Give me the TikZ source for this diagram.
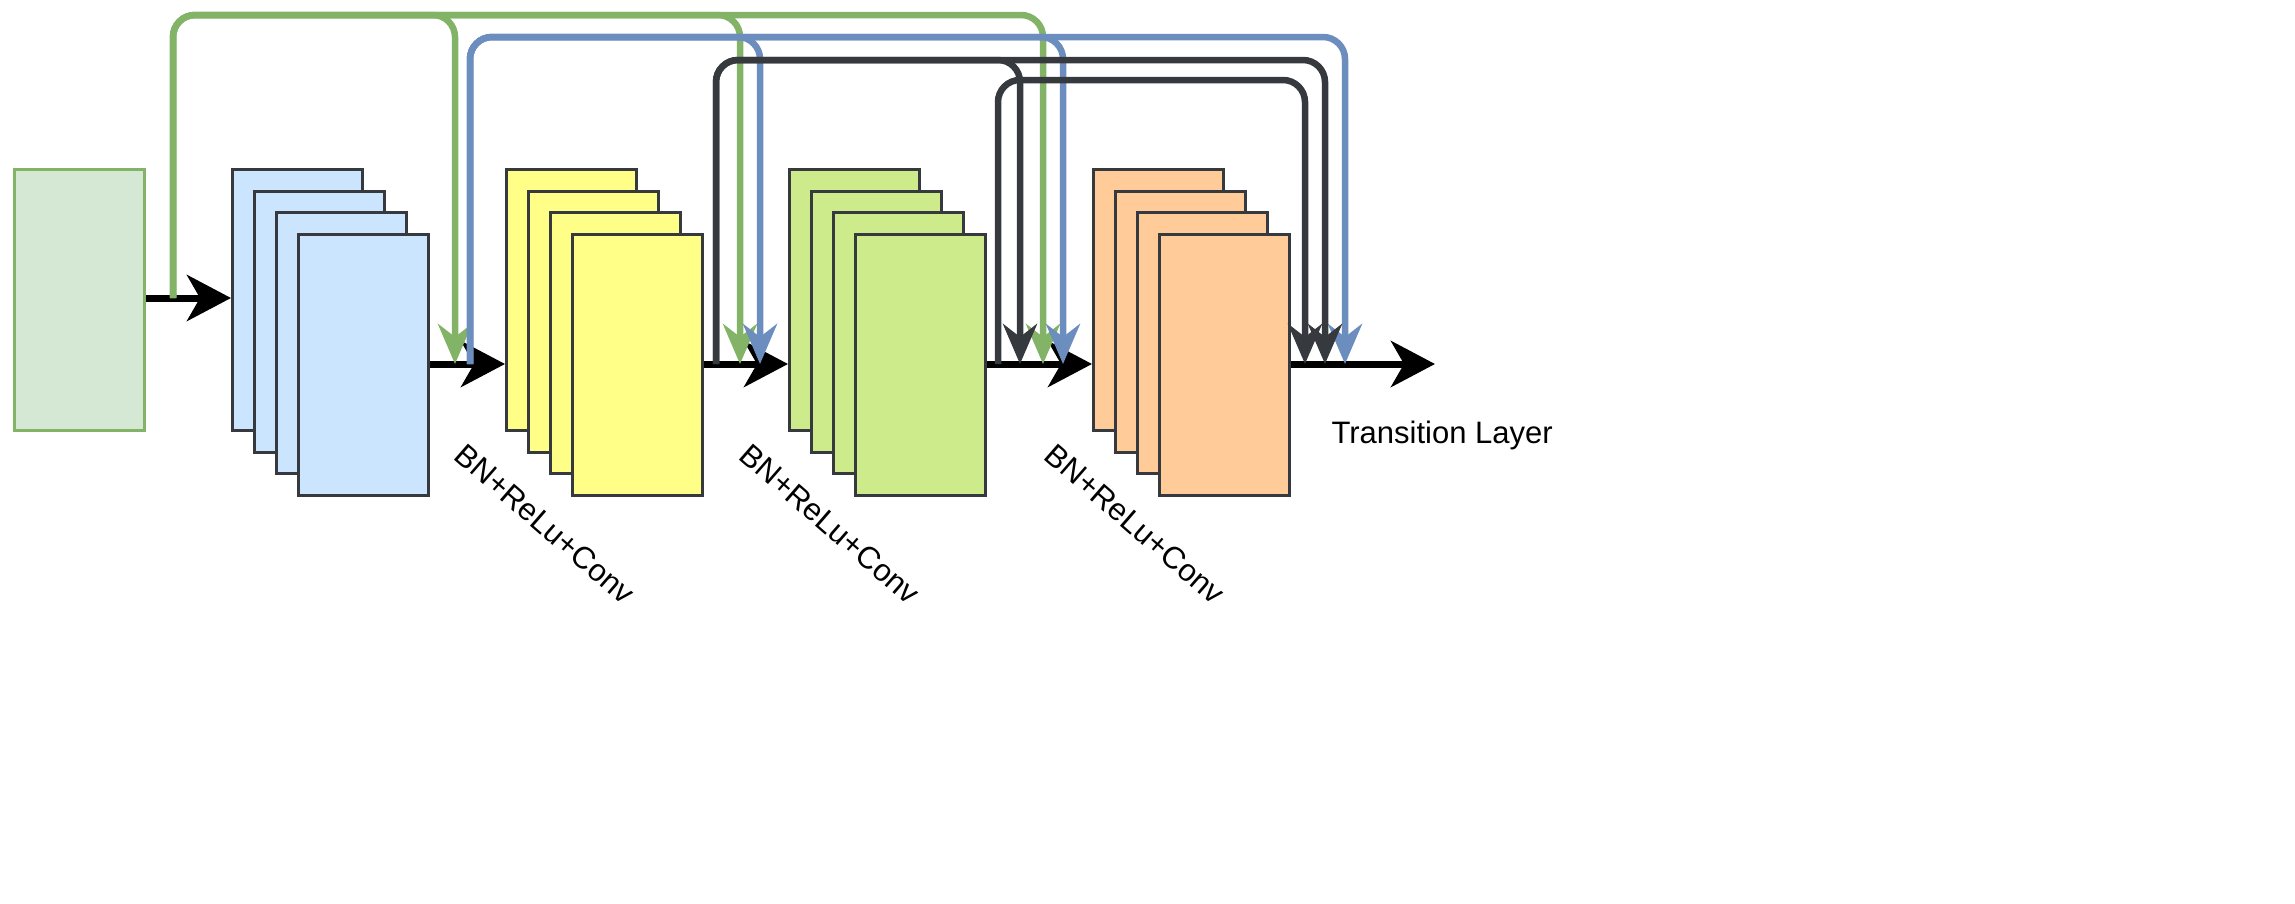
\documentclass[tikz,border=0pt]{standalone}
\usepackage{fontspec}
\setmainfont{Liberation Sans}
\usetikzlibrary{arrows.meta}
\definecolor{gfill}{HTML}{D5E8D4}\definecolor{gline}{HTML}{82B366}
\definecolor{bfill}{HTML}{CCE5FF}\definecolor{yfill}{HTML}{FFFF88}
\definecolor{lfill}{HTML}{CDEB8B}\definecolor{ofill}{HTML}{FFCC99}
\definecolor{dark}{HTML}{36393D}\definecolor{bline}{HTML}{6C8EBF}
\begin{document}
\begin{tikzpicture}[x=1pt,y=-1pt,
 blk/.style={draw=dark,line width=3pt,minimum width=130pt,minimum height=261pt,anchor=north west,inner sep=0pt},
 main/.style={line width=7pt,-{Stealth[length=44pt,width=46pt,inset=13pt]}},
 skip/.style={line width=6.5pt,rounded corners=22pt,-{Stealth[length=40pt,width=34pt,inset=13pt]}},
 lbl/.style={font=\fontsize{31}{33}\selectfont}]
\useasboundingbox (0,0) rectangle (2295,903);
\node[blk,draw=gline,fill=gfill] (in) at (13,168) {};
\foreach \c/\x/\n in {bfill/231/b,yfill/505/y,lfill/788/l,ofill/1092/o}{
 \foreach \i in {0,1,2,3}{
  \node[blk,fill=\c] (\n\i) at (\x+22*\i,168+21.7*\i) {};
 }}
\coordinate (gs) at (173,298);
\coordinate (bs) at (470,364);
\coordinate (d1s) at (716,364);
\coordinate (d2s) at (998,364);
\coordinate (t1) at (455,364);\coordinate (t2) at (740,364);\coordinate (t3) at (760,364);
\coordinate (t4) at (1020,364);\coordinate (t5) at (1043,364);\coordinate (t6) at (1063,364);
\coordinate (t7) at (1305,364);\coordinate (t8) at (1325,364);\coordinate (t9) at (1345,364);
\coordinate (out) at (1435,364);
\draw[main] (in.east|-gs) -- (b0.west|-gs);
\draw[main] (b3.east|-bs) -- (y0.west|-bs);
\draw[main] (y3.east|-bs) -- (l0.west|-bs);
\draw[main] (l3.east|-bs) -- (o0.west|-bs);
\draw[main] (o3.east|-bs) -- (out);
\foreach \t in {t1,t2,t5} \draw[skip,gline] (gs) |- (\t|-0,15) -- (\t);
\foreach \t in {t3,t6,t9} \draw[skip,bline] (bs) |- (\t|-0,37) -- (\t);
\foreach \t in {t4,t8} \draw[skip,dark] (d1s) |- (\t|-0,60) -- (\t);
\draw[skip,dark] (d2s) |- (t7|-0,80) -- (t7);
\node[lbl,anchor=west] (tl) at (1328,435) {Transition Layer};
\node[lbl,rotate=-41] (c1) at (545,524) {BN+ReLu+Conv};
\node[lbl,rotate=-41] (c2) at (830,524) {BN+ReLu+Conv};
\node[lbl,rotate=-41] (c3) at (1135,524) {BN+ReLu+Conv};
\end{tikzpicture}
\end{document}
